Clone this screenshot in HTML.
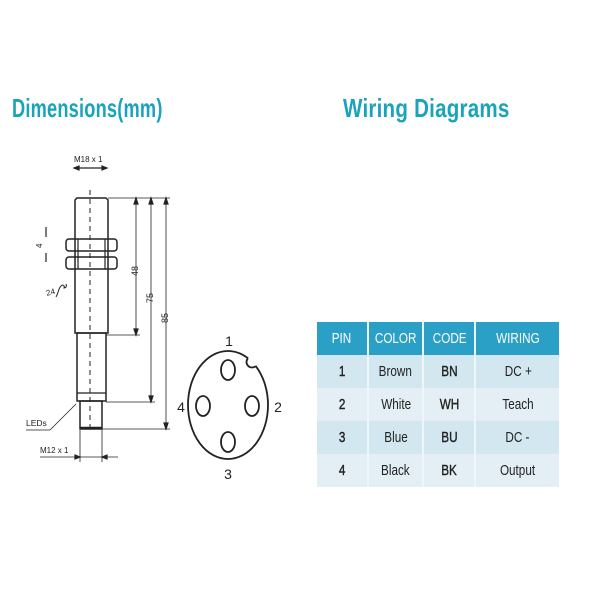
<!DOCTYPE html>
<html><head><style>
body{margin:0;background:#fff;width:600px;height:600px;position:relative;overflow:hidden;font-family:"Liberation Sans",sans-serif}
.t{position:absolute;color:#1aa3ba;font-weight:bold;font-size:26px;top:93px;transform-origin:left top;letter-spacing:0.3px}
table{position:absolute;left:317px;top:322px;border-collapse:collapse;font-size:15px;color:#222}
td{text-align:center;border-right:2px solid #eef6f9;padding:0;height:33px}
td span{display:inline-block;transform:scaleX(0.78)}
tr.h td{background:#2aa0c6;color:#fff;height:33px}
tr.a td{background:#d2e7f0}
tr.b td{background:#e3eff5}
td.c span,td.n span{-webkit-text-stroke:0.4px #222}
</style></head><body>
<div class="t" style="left:12px;transform:scaleX(0.7)">Dimensions(mm)</div>
<div class="t" style="left:343px;transform:scaleX(0.79)">Wiring Diagrams</div>
<svg width="600" height="600" style="position:absolute;left:0;top:0" font-family="Liberation Sans, sans-serif" fill="none" stroke="#222" stroke-width="1.2">
<defs><clipPath id="ce"><ellipse cx="228" cy="405" rx="40" ry="54"/></clipPath></defs>
<text x="74" y="162" font-size="8" fill="#222" stroke="none">M18 x 1</text>
<line x1="74" y1="168" x2="107" y2="168"/>
<path d="M74 168l5-2v4zM107 168l-5-2v4z" fill="#222"/>
<line x1="90" y1="190" x2="90" y2="432" stroke-dasharray="5,4" stroke-width="1"/>
<path d="M75 200l2-2h29l2 2v133h-33z" stroke-width="1.5"/>
<rect x="66" y="239" width="51" height="12" rx="3" stroke-width="1.5"/>
<rect x="66" y="257" width="51" height="12" rx="3" stroke-width="1.5"/>
<line x1="78" y1="239" x2="78" y2="269"/><line x1="105" y1="239" x2="105" y2="269"/>
<rect x="77" y="333" width="29" height="68" stroke-width="1.5"/>
<line x1="77" y1="393" x2="106" y2="393"/>
<rect x="80" y="401" width="22" height="28" stroke-width="1.5"/>
<line x1="80" y1="428" x2="102" y2="428" stroke-width="2.5"/>
<line x1="108" y1="198" x2="170" y2="198" stroke-width="0.8"/>
<line x1="106" y1="335" x2="140" y2="335" stroke-width="0.8"/>
<line x1="106" y1="402" x2="155" y2="402" stroke-width="0.8"/>
<line x1="102" y1="429" x2="170" y2="429" stroke-width="0.8"/>
<line x1="136" y1="198" x2="136" y2="335" stroke-width="0.8"/>
<line x1="151" y1="198" x2="151" y2="402" stroke-width="0.8"/>
<line x1="166" y1="198" x2="166" y2="429" stroke-width="0.8"/>
<path d="M136 198l-2 6h4zM136 335l-2-6h4zM151 198l-2 6h4zM151 402l-2-6h4zM166 198l-2 6h4zM166 429l-2-6h4z" fill="#222"/>
<text transform="translate(138,276) rotate(-90)" font-size="9" fill="#222" stroke="none">48</text>
<text transform="translate(153,303) rotate(-90)" font-size="9" fill="#222" stroke="none">75</text>
<text transform="translate(168,323) rotate(-90)" font-size="9" fill="#222" stroke="none">85</text>
<line x1="46" y1="227" x2="46" y2="237"/><line x1="46" y1="253" x2="46" y2="262"/>
<text transform="translate(42,248) rotate(-90)" font-size="8" fill="#222" stroke="none">4</text>
<text x="46" y="295" font-size="8" fill="#222" stroke="none" transform="rotate(-15 50 292)">24</text>
<path d="M56 297c3-5 2-8 5-11c2-2 4 0 3 2c2 0 3-2 2-4" stroke-width="1"/>
<text x="26" y="426" font-size="8.5" fill="#222" stroke="none">LEDs</text>
<line x1="26" y1="430" x2="50" y2="430" stroke-width="0.8"/>
<line x1="50" y1="430" x2="76" y2="404" stroke-width="0.8"/>
<line x1="80" y1="430" x2="80" y2="462" stroke-width="0.8"/>
<line x1="102" y1="430" x2="102" y2="462" stroke-width="0.8"/>
<text x="40" y="453" font-size="8" fill="#222" stroke="none">M12 x 1</text>
<line x1="40" y1="457" x2="118" y2="457" stroke-width="0.8"/>
<path d="M80 457l-5-2v4zM102 457l5-2v4z" fill="#222"/>
<ellipse cx="228" cy="405" rx="40" ry="54" stroke-width="1.8"/>
<circle cx="252" cy="362" r="5.5" fill="#fff" stroke="none"/>
<circle cx="252" cy="362" r="5.5" stroke-width="1.8" clip-path="url(#ce)"/>
<ellipse cx="228" cy="370" rx="7" ry="10" stroke-width="1.8"/>
<ellipse cx="228" cy="442" rx="7" ry="10" stroke-width="1.8"/>
<ellipse cx="203" cy="406" rx="7" ry="10" stroke-width="1.8"/>
<ellipse cx="252" cy="406" rx="7" ry="10" stroke-width="1.8"/>
<g font-size="14" fill="#222" stroke="none" text-anchor="middle">
<text x="229" y="346">1</text><text x="278" y="412">2</text><text x="228" y="479">3</text><text x="181" y="412">4</text>
</g>
</svg>
<table>
<tr class="h"><td style="width:50px"><span>PIN</span></td><td style="width:53px"><span>COLOR</span></td><td style="width:50px"><span>CODE</span></td><td style="width:83px;border-right:none"><span>WIRING</span></td></tr>
<tr class="a"><td class="n"><span>1</span></td><td><span>Brown</span></td><td class="c"><span>BN</span></td><td style="border-right:none"><span>DC +</span></td></tr>
<tr class="b"><td class="n"><span>2</span></td><td><span>White</span></td><td class="c"><span>WH</span></td><td style="border-right:none"><span>Teach</span></td></tr>
<tr class="a"><td class="n"><span>3</span></td><td><span>Blue</span></td><td class="c"><span>BU</span></td><td style="border-right:none"><span>DC -</span></td></tr>
<tr class="b"><td class="n"><span>4</span></td><td><span>Black</span></td><td class="c"><span>BK</span></td><td style="border-right:none"><span>Output</span></td></tr>
</table>
</body></html>
